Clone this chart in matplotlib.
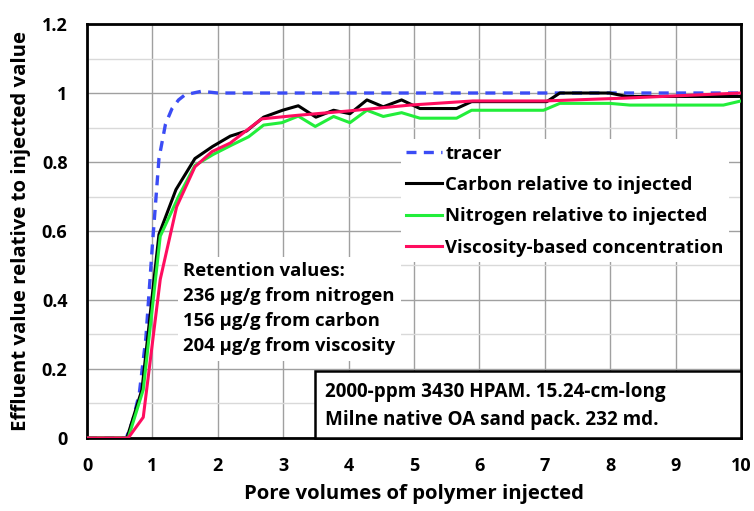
import matplotlib
matplotlib.use("Agg")
import matplotlib.pyplot as plt
from matplotlib.patches import Rectangle
from matplotlib.ticker import MultipleLocator

plt.rcParams['font.family'] = ['Open Sans', 'DejaVu Sans']
plt.rcParams['font.weight'] = 'bold'

# tracer
tracer_x = [0, 0.6, 0.7, 0.8, 0.9, 1.0, 1.1, 1.2, 1.3, 1.4, 1.5, 1.75, 2.0, 10]
tracer_y = [0, 0, 0.05, 0.13, 0.29, 0.56, 0.81, 0.91, 0.955, 0.98, 0.995, 1.005, 1.0, 1.0]

# carbon relative to injected
carbon_x = [0, 0.61, 0.84, 1.1, 1.36, 1.65, 1.92, 2.19, 2.44, 2.7, 2.99, 3.23, 3.5, 3.77,
            4.02, 4.28, 4.53, 4.81, 5.09, 5.65, 5.88, 7.03, 7.23, 7.99, 8.25, 10]
carbon_y = [0, 0, 0.14, 0.59, 0.72, 0.81, 0.845, 0.875, 0.89, 0.93, 0.95, 0.963, 0.93, 0.95,
            0.94, 0.98, 0.96, 0.98, 0.955, 0.955, 0.975, 0.975, 1.0, 1.0, 0.99, 0.99]

# nitrogen relative to injected
nitro_x = [0, 0.63, 0.86, 1.12, 1.4, 1.65, 1.93, 2.2, 2.47, 2.7, 2.98, 3.23, 3.49, 3.77,
           4.02, 4.28, 4.53, 4.81, 5.09, 5.65, 5.88, 6.98, 7.23, 7.99, 8.3, 9.73, 10]
nitro_y = [0, 0, 0.14, 0.585, 0.70, 0.79, 0.822, 0.848, 0.873, 0.907, 0.914, 0.933, 0.903, 0.932,
           0.914, 0.95, 0.932, 0.943, 0.927, 0.927, 0.95, 0.95, 0.97, 0.97, 0.965, 0.965, 0.977]

# viscosity-based concentration
visc_x = [0, 0.63, 0.86, 1.12, 1.37, 1.65, 1.91, 2.19, 2.67, 3.2, 4.0, 4.94, 5.9, 7.0, 8.2, 10]
visc_y = [0, 0, 0.06, 0.46, 0.67, 0.786, 0.83, 0.855, 0.925, 0.935, 0.948, 0.965, 0.977, 0.977, 0.985, 1.0]

yticks = [0, 0.2, 0.4, 0.6, 0.8, 1.0, 1.2]
ytick_labels = ['0', '0.2', '0.4', '0.6', '0.8', '1', '1.2']

fig = plt.figure(figsize=(7.54, 5.11), dpi=100)
ax = fig.add_axes([0.1154, 0.1429, 0.8674, 0.8101])

ax.plot(tracer_x, tracer_y, color='#3b4cf5', lw=2.4, ls=(0, (3, 2.2)), label='tracer', zorder=3)
ax.plot(carbon_x, carbon_y, color='black', lw=2.2, label='Carbon relative to injected', zorder=3)
ax.plot(nitro_x, nitro_y, color='#22ee3a', lw=2.2, label='Nitrogen relative to injected', zorder=3)
ax.plot(visc_x, visc_y, color='#ff0d5f', lw=2.2, label='Viscosity-based concentration', zorder=4)

ax.set_xlim(0, 10)
ax.set_ylim(0, 1.2)
ax.xaxis.set_major_locator(MultipleLocator(1))
ax.set_yticks(yticks)
ax.set_yticklabels(ytick_labels)
ax.yaxis.set_minor_locator(MultipleLocator(0.1))
ax.grid(which='major', color='#a0a0a0', lw=1.0, zorder=0)
ax.grid(which='minor', axis='y', color='#d9d9d9', lw=1.0, zorder=0)
ax.set_axisbelow(True)
ax.tick_params(which='both', length=0, labelsize=13)
ax.tick_params(axis='y', pad=14)
ax.tick_params(axis='x', pad=14)
for lab in ax.get_xticklabels() + ax.get_yticklabels():
    lab.set_fontweight('bold')
for s in ax.spines.values():
    s.set_linewidth(2.0)
    s.set_color('black')

ax.set_xlabel('Pore volumes of polymer injected', fontsize=14.7, fontweight='bold', labelpad=6)
ax.set_ylabel('Effluent value relative to injected value', fontsize=14.7, fontweight='bold', labelpad=8)

leg = ax.legend(loc='upper left', bbox_to_anchor=(0.48, 0.722), frameon=True, fancybox=False,
                prop={'size': 13.3, 'weight': 'bold'}, handlelength=1.9, handletextpad=0.2,
                labelspacing=0.72, borderpad=0.3, borderaxespad=0)
leg.get_frame().set_edgecolor('none')
leg.get_frame().set_facecolor('white')
leg.get_frame().set_alpha(1)
leg.set_zorder(6)

ax.text(0.147, 0.312, 'Retention values:\n236 \u00b5g/g from nitrogen\n156 \u00b5g/g from carbon\n204 \u00b5g/g from viscosity',
        transform=ax.transAxes, fontsize=13.3, fontweight='bold', va='center', ha='left',
        linespacing=1.5, zorder=6,
        bbox=dict(boxstyle='square,pad=0.3', facecolor='white', edgecolor='none'))

# boxed note in the lower right corner, reaching the axes frame
ax.add_patch(Rectangle((0.349, 0.0), 0.651, 0.162, transform=ax.transAxes,
                       facecolor='white', edgecolor='black', lw=1.8, zorder=5, clip_on=False))
ax.text(0.364, 0.077, '2000-ppm 3430 HPAM. 15.24-cm-long\nMilne native OA sand pack. 232 md.',
        transform=ax.transAxes, fontsize=13.6, fontweight='bold', va='center', ha='left',
        linespacing=1.55, zorder=6)

fig.savefig('out.png', dpi=100)
